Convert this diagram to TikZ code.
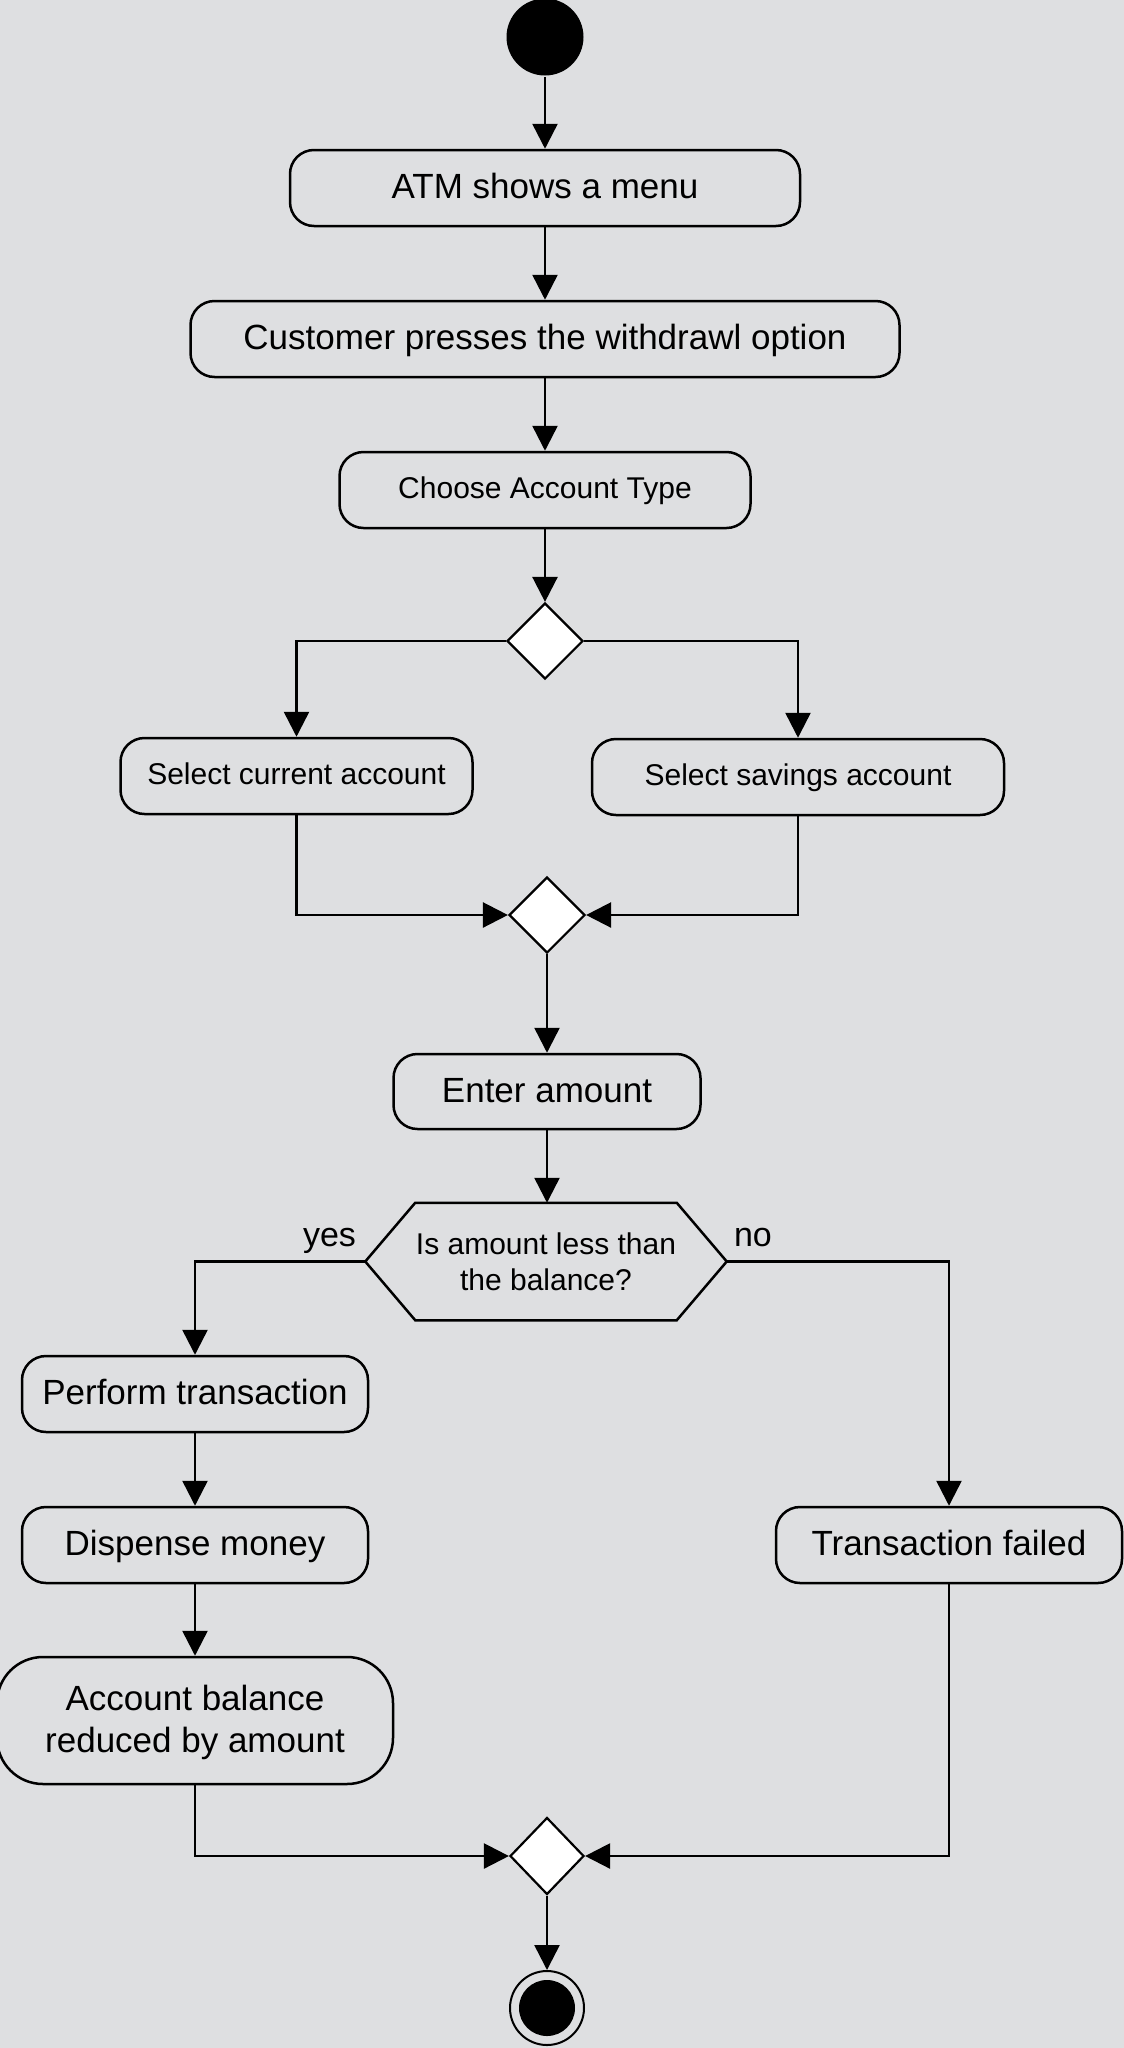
\documentclass[tikz,border=0pt]{standalone}
\usepackage{fontspec}
\setmainfont{Liberation Sans}
\usetikzlibrary{arrows.meta,shapes.geometric}
\definecolor{canvas}{RGB}{222,223,225}
\definecolor{ink}{HTML}{000000}

\begin{document}
\begin{tikzpicture}[x=1pt,y=-1pt,line width=2.5pt,ink,
  act/.style={draw,rounded corners=24pt,minimum height=76pt,inner sep=0pt,align=center,
    text height=25pt,text depth=4pt,font=\fontsize{35}{42}\selectfont},
  smallact/.style={act,text height=22pt,text depth=5pt,font=\fontsize{30}{36}\selectfont},
  gate/.style={draw,diamond,fill=white,minimum width=76pt,minimum height=76pt,inner sep=0pt,line width=2.2pt},
  flow/.style={-{Triangle[length=25pt,width=25pt]}},
  guard/.style={inner sep=0pt,font=\fontsize{34}{40}\selectfont}]
  % Canvas
  \fill[canvas] (0,0) rectangle (1124,2048);
  \useasboundingbox (0,0) rectangle (1124,2048);

  % Start and top of the flow
  \node[circle,fill=ink,minimum size=77pt,inner sep=0pt] (init) at (545,37) {};
  \node[act,minimum width=510pt] (menu) at (545,188) {ATM shows a menu};
  \node[act,minimum width=709pt] (press) at (545,339) {Customer presses the withdrawl option};
  \node[smallact,minimum width=411pt] (choose) at (545,490) {Choose Account Type};

  % Account type branch
  \node[gate] (split) at (545,641) {};
  \node[smallact,minimum width=352pt] (current) at (296.5,776) {Select current account};
  \node[smallact,minimum width=412pt] (savings) at (798,777) {Select savings account};
  \node[gate] (merge) at (547,915) {};

  \draw[flow] (init) -- (menu);
  \draw[flow] (menu) -- (press);
  \draw[flow] (press) -- (choose);
  \draw[flow] (choose) -- (split);
  \draw[flow] (split.west) -| (current.north);
  \draw[flow] (split.east) -| (savings.north);
  \draw[flow] (current.south) |- (merge.west);
  \draw[flow] (savings.south) |- (merge.east);

  % Amount check
  \node[act,minimum width=307pt,minimum height=75pt] (amount) at (547,1091.5) {Enter amount};
  \node[minimum width=359pt,minimum height=115pt,inner sep=0pt,align=center,font=\fontsize{30}{36}\selectfont] (check) at (546,1261.5) {Is amount less than\\the balance?};
  \draw[line join=miter] (check.west) -- ([xshift=50pt]check.north west) -- ([xshift=-50pt]check.north east)
    -- (check.east) -- ([xshift=-50pt]check.south east) -- ([xshift=50pt]check.south west) -- cycle;
  \node[guard,anchor=base east] (yeslbl) at ([xshift=-8pt,yshift=15pt]check.west) {yes};
  \node[guard,anchor=base west] (nolbl) at ([xshift=6pt,yshift=15pt]check.east) {no};

  \draw[flow] (merge) -- (amount);
  \draw[flow] (amount) -- (amount |- check.north);

  % Outcomes
  \node[act,minimum width=346pt] (perform) at (195,1394) {Perform transaction};
  \node[act,minimum width=346pt] (dispense) at (195,1545) {Dispense money};
  \node[act,minimum width=396pt,minimum height=127pt,rounded corners=46pt,text height=67pt] (reduce) at (195,1720.5) {Account balance\\reduced by amount};
  \node[act,minimum width=346pt] (failed) at (949,1545) {Transaction failed};

  \draw[flow] (check.west) -| (perform.north);
  \draw[flow] (check.east) -| (failed.north);
  \draw[flow] (perform) -- (dispense);
  \draw[flow] (dispense) -- (reduce);

  % End
  \node[gate,minimum width=74pt,minimum height=77pt] (join) at (547,1856) {};
  \node[circle,draw,line width=2pt,minimum size=74pt,inner sep=0pt] (stop) at (547,2008) {};
  \node[circle,fill=ink,minimum size=56pt,inner sep=0pt] (stopdot) at (stop) {};

  \draw[flow] (reduce.south) |- (join.west);
  \draw[flow] (failed.south) |- (join.east);
  \draw[flow] (join) -- (stop);
\end{tikzpicture}
\end{document}
